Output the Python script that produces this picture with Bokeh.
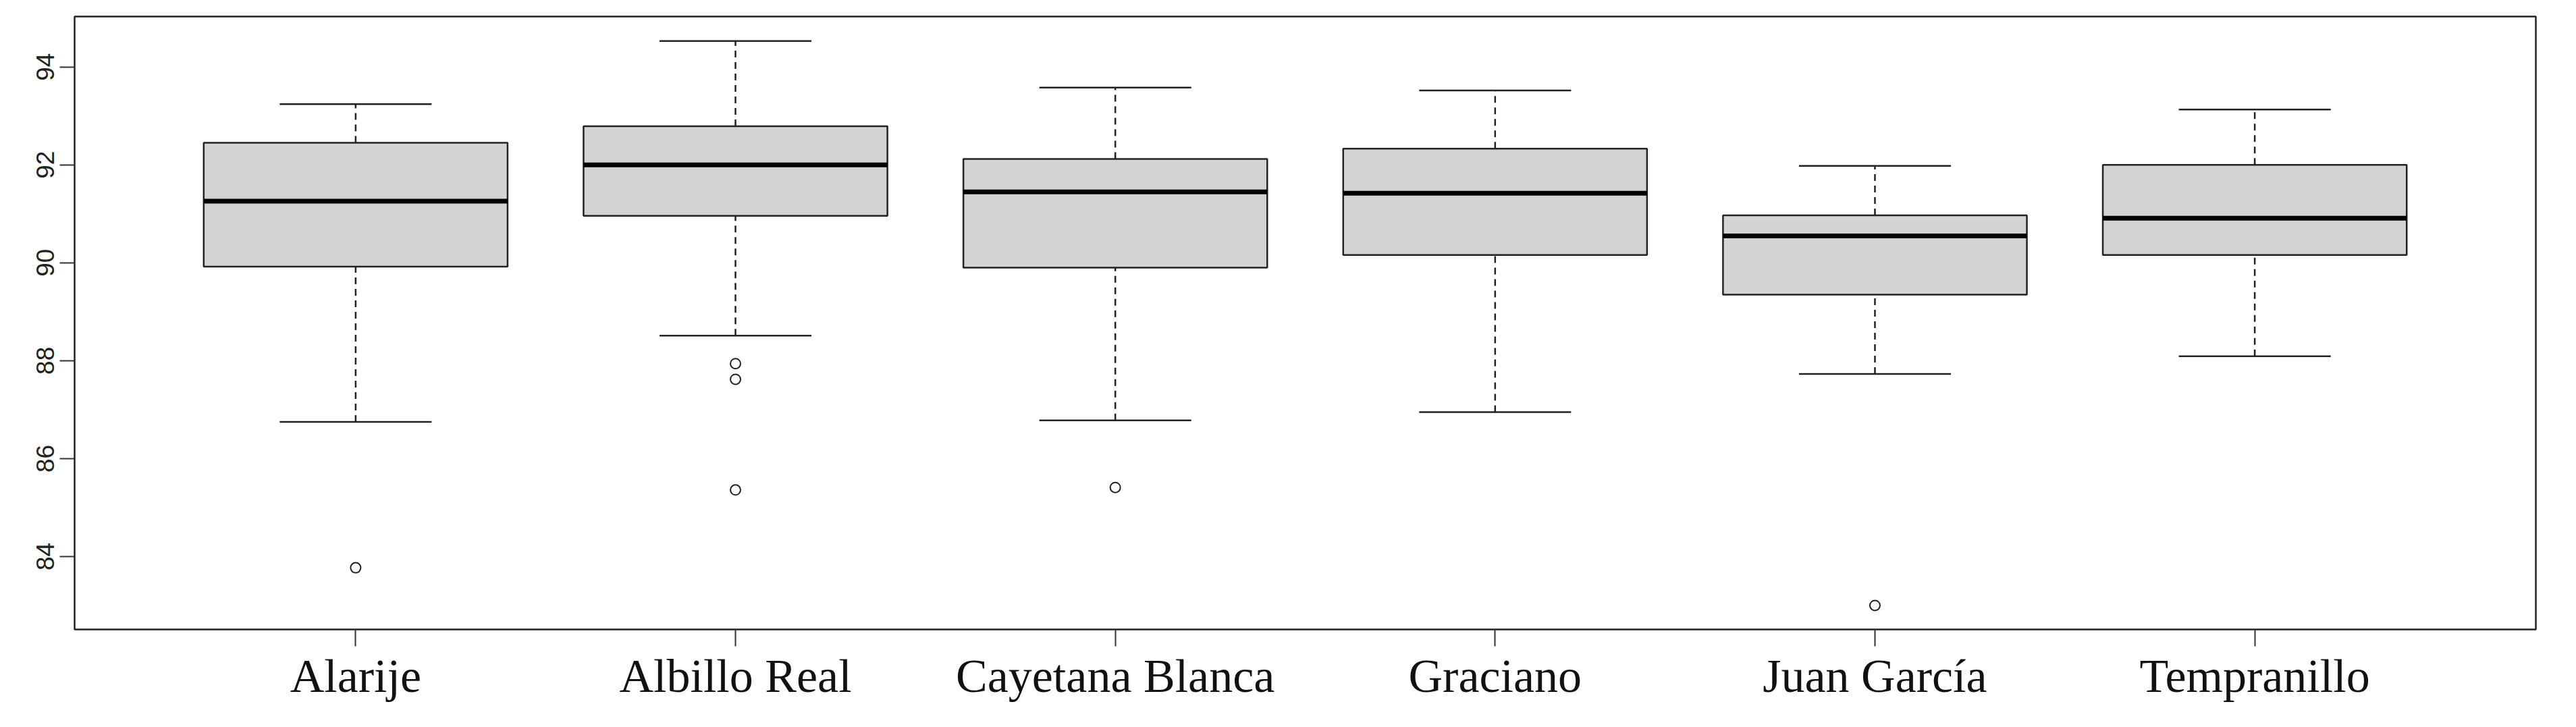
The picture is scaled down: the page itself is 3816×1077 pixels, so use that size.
from bokeh.plotting import figure
from bokeh.models import Range1d, FixedTicker, ColumnDataSource
from bokeh.embed import file_html
from bokeh.resources import INLINE

categories = ["Alarije", "Albillo Real", "Cayetana Blanca", "Graciano", "Juan García", "Tempranillo"]
whisker_low = [86.75, 88.51, 86.78, 86.95, 87.73, 88.09]
q1 = [89.92, 90.96, 89.90, 90.16, 89.35, 90.16]
median = [91.26, 92.00, 91.45, 91.42, 90.55, 90.91]
q3 = [92.45, 92.79, 92.12, 92.33, 90.97, 92.00]
whisker_high = [93.24, 94.53, 93.58, 93.52, 91.98, 93.13]
outlier_group = ["Alarije", "Albillo Real", "Albillo Real", "Albillo Real", "Cayetana Blanca", "Juan García"]
outlier_value = [83.77, 87.94, 87.62, 85.36, 85.41, 83.00]
y_ticks = [84, 86, 88, 90, 92, 94]

pos = list(range(1, len(categories) + 1))
box_w = 0.8
cap_w = 0.4

src = ColumnDataSource(dict(
    x=pos,
    left=[p - box_w / 2 for p in pos],
    right=[p + box_w / 2 for p in pos],
    cl=[p - cap_w / 2 for p in pos],
    cr=[p + cap_w / 2 for p in pos],
    lo=whisker_low, q1=q1, med=median, q3=q3, hi=whisker_high,
))
out_src = ColumnDataSource(dict(
    x=[categories.index(g) + 1 for g in outlier_group],
    y=outlier_value,
))

p = figure(width=3800, height=1061, output_backend="svg", toolbar_location=None,
           x_range=Range1d(0.26, 6.74), y_range=Range1d(82.51, 95.03),
           min_border_left=110, min_border_right=44, min_border_top=24, min_border_bottom=129)

p.grid.visible = False
p.background_fill_color = "white"
p.border_fill_color = "white"
p.outline_line_color = "#222222"
p.outline_line_width = 2.5

# whiskers (dashed)
p.segment(x0="x", y0="q3", x1="x", y1="hi", source=src, line_color="#222222",
          line_width=2.5, line_dash="10 7")
p.segment(x0="x", y0="lo", x1="x", y1="q1", source=src, line_color="#222222",
          line_width=2.5, line_dash="10 7")
# caps
p.segment(x0="cl", y0="hi", x1="cr", y1="hi", source=src, line_color="#222222", line_width=2.5)
p.segment(x0="cl", y0="lo", x1="cr", y1="lo", source=src, line_color="#222222", line_width=2.5)
# boxes
p.quad(left="left", right="right", bottom="q1", top="q3", source=src,
       fill_color="#D3D3D3", line_color="#222222", line_width=2.5)
# medians
p.segment(x0="left", y0="med", x1="right", y1="med", source=src, line_color="black", line_width=7)
# outliers
p.scatter(x="x", y="y", source=out_src, marker="circle", size=15, fill_color=None,
          line_color="#222222", line_width=2)

# axes
xa = p.xaxis[0]
xa.ticker = FixedTicker(ticks=pos)
xa.major_label_overrides = {i: c for i, c in zip(pos, categories)}
xa.axis_line_color = None
xa.major_tick_line_color = "#333333"
xa.major_tick_line_width = 2
xa.major_tick_out = 25
xa.major_tick_in = 0
xa.minor_tick_line_color = None
xa.major_label_text_font = "Liberation Serif"
xa.major_label_text_font_size = "70px"
xa.major_label_text_color = "#111111"
xa.major_label_standoff = 5

ya = p.yaxis[0]
ya.ticker = FixedTicker(ticks=y_ticks)
ya.axis_line_color = None
ya.major_tick_line_color = "#333333"
ya.major_tick_line_width = 2
ya.major_tick_out = 22
ya.major_tick_in = 0
ya.minor_tick_line_color = None
ya.major_label_orientation = "vertical"
ya.major_label_text_font = "Liberation Sans"
ya.major_label_text_font_size = "37px"
ya.major_label_text_color = "#222222"
ya.major_label_standoff = 8

open("out.html", "w").write(file_html(p, INLINE))
